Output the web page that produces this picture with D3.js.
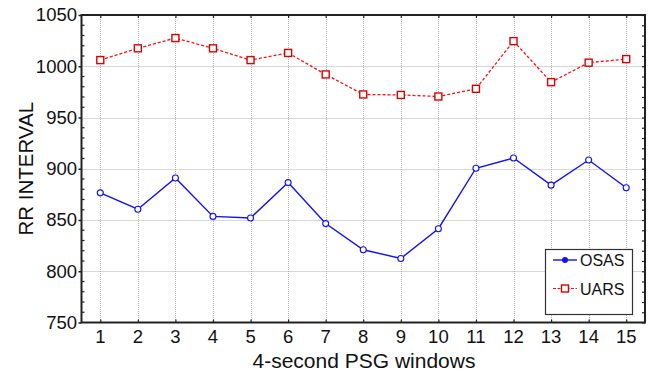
<!DOCTYPE html>
<html>
<head>
<meta charset="utf-8">
<script src="https://cdn.jsdelivr.net/npm/d3@7"></script>
<style>
  html, body { margin: 0; padding: 0; background: #fff; }
  svg { display: block; font-family: "Liberation Sans", Arial, Helvetica, sans-serif; }
</style>
</head>
<body>
<svg id="chart" width="653" height="373"></svg>
<script>
// Fifteen consecutive 4-second PSG windows
const windows = [1, 2, 3, 4, 5, 6, 7, 8, 9, 10, 11, 12, 13, 14, 15];
// Mean RR interval per window (ms)
const osas = [876.5, 860.5, 891, 853.5, 852, 886.5, 846.5, 821, 812.5, 841.5, 900.5, 910.5, 884, 908.5, 881.5];
const uars = [1006, 1017.5, 1027.5, 1017.5, 1006, 1013, 992, 972.5, 972, 970.5, 978, 1024.5, 984.5, 1003.5, 1007];
const yTicks = [750, 800, 850, 900, 950, 1000, 1050];
const seriesNames = ["OSAS", "UARS"];

const svg = d3.select("#chart");
const plotL = 81.5, plotR = 645, plotT = 15, plotB = 322.5;

const x = d3.scaleLinear().domain([0.5, 15.5]).range([plotL, plotR]);
const y = d3.scaleLinear().domain([750, 1050]).range([plotB, plotT]);

// Dotted grid
const grid = svg.append("g").attr("stroke", "#b0b0b0").attr("stroke-width", 1).attr("stroke-dasharray", "1,1");
grid.selectAll("line.v").data(windows).join("line").attr("class", "v")
  .attr("x1", d => Math.round(x(d)) + 0.5).attr("x2", d => Math.round(x(d)) + 0.5)
  .attr("y1", plotT).attr("y2", plotB);
grid.selectAll("line.h").data(yTicks.slice(1, -1)).join("line").attr("class", "h")
  .attr("x1", plotL).attr("x2", plotR)
  .attr("y1", d => Math.round(y(d)) + 0.5).attr("y2", d => Math.round(y(d)) + 0.5);

// Axes
const axisColor = "#222";
const minor = d3.range(760, 1050, 10).filter(v => v % 50 !== 0);

const yAxis = svg.append("g").attr("transform", `translate(${plotL},0)`)
  .call(d3.axisLeft(y).tickValues(yTicks).tickFormat(d3.format("d")).tickSize(3).tickPadding(1.5));
yAxis.selectAll("text").attr("font-size", 18.5).attr("fill", "#111");
yAxis.selectAll(".tick line").attr("stroke", axisColor).attr("stroke-width", 1.5);
yAxis.select(".domain").remove();
svg.append("g").selectAll("line").data(minor).join("line")
  .attr("x1", plotL).attr("x2", plotL + 3)
  .attr("y1", d => y(d)).attr("y2", d => y(d))
  .attr("stroke", axisColor).attr("stroke-width", 1.2);

const rightTicks = svg.append("g").attr("transform", `translate(${plotR},0)`)
  .call(d3.axisLeft(y).tickValues(d3.range(750, 1051, 10)).tickSize(3).tickFormat(""));
rightTicks.select(".domain").remove();
rightTicks.selectAll(".tick line").attr("stroke", axisColor).attr("stroke-width", 1.2);

const xAxis = svg.append("g").attr("transform", `translate(0,${plotB})`)
  .call(d3.axisTop(x).tickValues(windows).tickSize(3).tickFormat(""));
xAxis.select(".domain").remove();
xAxis.selectAll(".tick line").attr("stroke", axisColor).attr("stroke-width", 1.2);
svg.append("g").selectAll("text").data(windows).join("text")
  .attr("x", d => x(d)).attr("y", plotB + 20)
  .attr("text-anchor", "middle").attr("font-size", 18.5).attr("fill", "#111").text(d => d);

const xTop = svg.append("g").attr("transform", `translate(0,${plotT})`)
  .call(d3.axisBottom(x).tickValues(windows).tickSize(3).tickFormat(""));
xTop.select(".domain").remove();
xTop.selectAll(".tick line").attr("stroke", axisColor).attr("stroke-width", 1.2);

// Plot frame
svg.append("rect").attr("x", plotL).attr("y", plotT)
  .attr("width", plotR - plotL).attr("height", plotB - plotT)
  .attr("fill", "none").attr("stroke", axisColor).attr("stroke-width", 2);

// Axis titles
svg.append("text").attr("x", 364).attr("y", 367.5)
  .attr("text-anchor", "middle").attr("font-size", 21).attr("fill", "#111")
  .text("4-second PSG windows");
svg.append("text").attr("transform", `translate(33,${(plotT + plotB) / 2}) rotate(-90)`)
  .attr("text-anchor", "middle").attr("font-size", 20.5).attr("fill", "#111")
  .text("RR INTERVAL");

// Series
const line = d3.line().x((d, i) => x(windows[i])).y(d => y(d));

svg.append("path").datum(uars).attr("d", line)
  .attr("fill", "none").attr("stroke", "#ff1010").attr("stroke-width", 1.3)
  .attr("stroke-dasharray", "3,2");
svg.append("g").selectAll("rect").data(uars).join("rect")
  .attr("x", (d, i) => x(windows[i]) - 3.5).attr("y", d => y(d) - 3.5)
  .attr("width", 7).attr("height", 7)
  .attr("fill", "#fff").attr("stroke", "#e00000").attr("stroke-width", 1.4);

svg.append("path").datum(osas).attr("d", line)
  .attr("fill", "none").attr("stroke", "#1010ff").attr("stroke-width", 1.4);
svg.append("g").selectAll("circle").data(osas).join("circle")
  .attr("cx", (d, i) => x(windows[i])).attr("cy", d => y(d)).attr("r", 3)
  .attr("fill", "#fff").attr("stroke", "#1010ff").attr("stroke-width", 1.1);

// Legend
const lg = svg.append("g");
lg.append("rect").attr("x", 545.5).attr("y", 249.5).attr("width", 87).attr("height", 65)
  .attr("fill", "#fff").attr("stroke", "#333").attr("stroke-width", 1.2);
lg.append("line").attr("x1", 553).attr("x2", 577).attr("y1", 260).attr("y2", 260)
  .attr("stroke", "#1010ff").attr("stroke-width", 1.4);
lg.append("circle").attr("cx", 565).attr("cy", 260).attr("r", 3).attr("fill", "#1010ff");
lg.append("line").attr("x1", 553).attr("x2", 577).attr("y1", 288.5).attr("y2", 288.5)
  .attr("stroke", "#ff1010").attr("stroke-width", 1.2).attr("stroke-dasharray", "3,1.5");
lg.append("rect").attr("x", 561.5).attr("y", 285).attr("width", 7).attr("height", 7)
  .attr("fill", "#fff").attr("stroke", "#e00000").attr("stroke-width", 1.4);
lg.selectAll("text").data(seriesNames).join("text")
  .attr("x", 580).attr("y", (d, i) => [266, 294.5][i])
  .attr("font-size", 16).attr("fill", "#111").text(d => d);
</script>
</body>
</html>
